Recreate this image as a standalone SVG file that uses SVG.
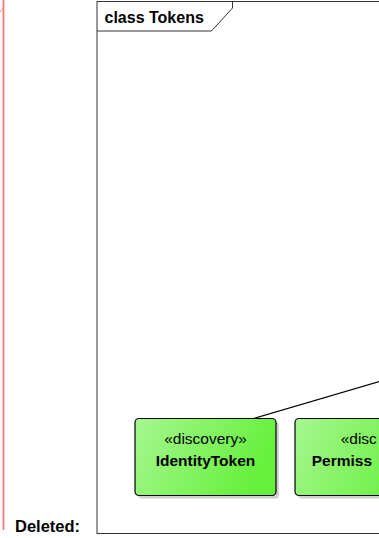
<svg xmlns="http://www.w3.org/2000/svg" width="379" height="538" viewBox="0 0 379 538">
<style>
.frame{fill:none;stroke:#333;stroke-width:1}
.lbl{font-family:"Liberation Sans",Arial,sans-serif;font-weight:bold;font-size:16px;fill:#000}
.st{font-family:"Liberation Sans",Arial,sans-serif;font-size:15.5px;fill:#000}
.nm{font-family:"Liberation Sans",Arial,sans-serif;font-weight:bold;font-size:15.5px;fill:#000}
.box{stroke:#000;stroke-width:1.2;fill:url(#g)}
.sh{fill:#d0d0d0}
.conn{stroke:#000;stroke-width:1.2;fill:none}
</style>
<defs>
<linearGradient id="g" x1="0" y1="0" x2="1" y2="0.3">
<stop offset="0" stop-color="#a6f790"/>
<stop offset="1" stop-color="#66f03c"/>
</linearGradient>
</defs>
<rect width="379" height="538" fill="#fff"/>
<g id="changebar">
<line x1="3.5" y1="0" x2="3.5" y2="530" stroke="#f47a7a" stroke-width="1.8"/>
<line x1="0" y1="12" x2="3.5" y2="8" stroke="#f47a7a" stroke-width="1"/>
</g>
<g id="frame">
<rect x="97" y="1.5" width="300" height="532" class="frame"/>
<path d="M97 31 H211.5 L232.5 8 V1.5" class="frame"/>
<text x="104.5" y="23" class="lbl">class Tokens</text>
</g>
<g id="connectors">
<line x1="253.5" y1="418.5" x2="420" y2="369.5" class="conn"/>
</g>
<g id="IdentityToken">
<rect x="138" y="421.5" width="141" height="77" rx="4" class="sh"/>
<rect x="135" y="418.5" width="141" height="77" rx="4" class="box"/>
<text x="205.5" y="444" text-anchor="middle" class="st">«discovery»</text>
<text x="205.5" y="466" text-anchor="middle" class="nm">IdentityToken</text>
</g>
<g id="PermissionToken">
<rect x="298" y="421.5" width="141" height="77" rx="4" class="sh"/>
<rect x="295" y="418.5" width="141" height="77" rx="4" class="box"/>
<text x="340.7" y="444" class="st">«disc</text>
<text x="311.7" y="466" class="nm">Permiss</text>
</g>
<text x="15" y="532" class="lbl" style="font-size:16.5px">Deleted:</text>
</svg>
